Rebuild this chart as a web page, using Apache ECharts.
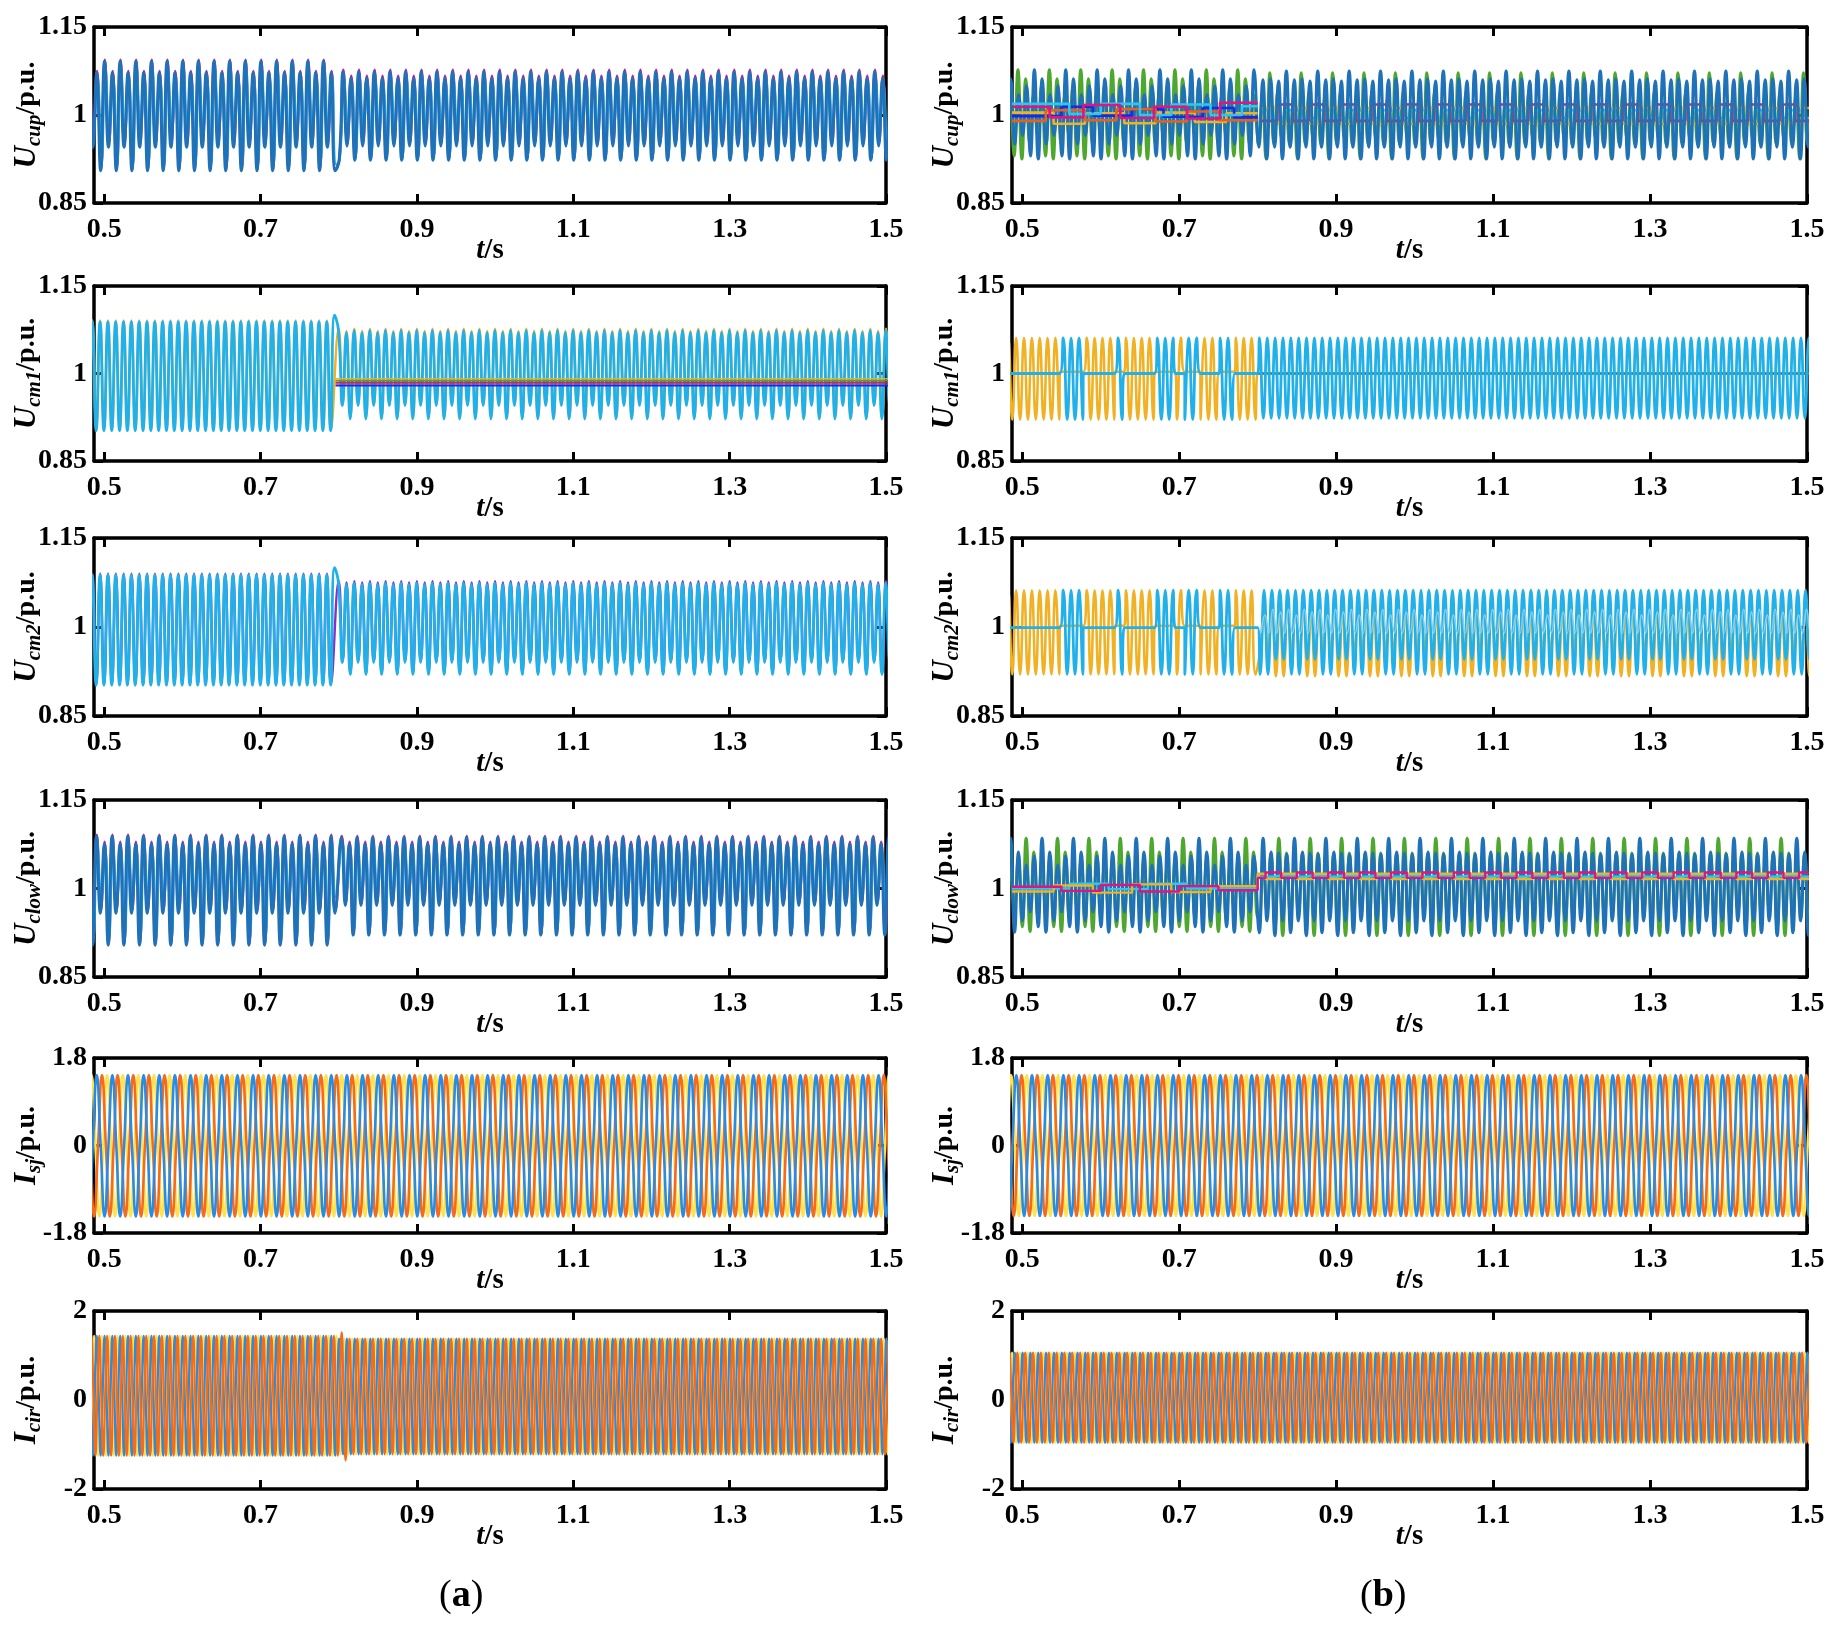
<!DOCTYPE html>
<html>
<head>
<meta charset="utf-8">
<script src="https://cdn.jsdelivr.net/npm/echarts@6/dist/echarts.min.js"></script>
<style>
  html, body { margin: 0; background: #fff; }
  #chart { width: 1837px; height: 1632px; }
</style>
</head>
<body>
<div id="chart"></div>
<script>
// axis ticks
const xTicks = [0.5, 0.7, 0.9, 1.1, 1.3, 1.5];
const yTicksU = [0.85, 1, 1.15];
const yTicksIsj = [-1.8, 0, 1.8];
const yTicksIcir = [-2, 0, 2];

// Waveform segments.
// [tStart, tEnd, period, time of first extremum, extrema of one period]  or  flat: [tStart, tEnd, level]

// ---- (a) U_cup
const ucupA_blue    = [[0.47, 0.8, 0.02, 0.5005, [1.092, 0.945, 1.072, 0.905]], [0.8, 1.51, 0.02, 0.8056, [1.074, 0.947, 1.063, 0.923]]];
const ucupA_magenta = [[0.47, 0.8, 0.02, 0.5009, [1.094, 0.95, 1.075, 0.907]],  [0.8, 1.51, 0.02, 0.806,  [1.077, 0.952, 1.067, 0.925]]];
const ucupA_light   = [[0.47, 0.8, 0.02, 0.5018, [1.08, 0.975, 1.06, 0.915]],   [0.8, 1.51, 0.02, 0.8069, [1.066, 0.978, 1.055, 0.93]]];

// ---- (a) U_cm1
const ucm1A_light  = [[0.47, 0.794, 0.01, 0.4947, [1.089, 0.902]], [0.7945, 0.7955, 0.01, 0.7947, [1.1, 0.9]], [0.796, 1.51, 0.02, 0.7997, [1.074, 0.945, 1.07, 0.922]]];
const ucm1A_orange = [[0.47, 0.794, 0.01, 0.495, [1.091, 0.904]], [0.796, 1.51, 0.02, 0.8, [1.077, 0.947, 1.073, 0.924]]];
const ucm1A_bandOrange = [[0.796, 1.51, 0.991]];
const ucm1A_bandGreen  = [[0.796, 1.51, 0.988]];
const ucm1A_bandRed    = [[0.796, 1.51, 0.985]];
const ucm1A_bandPurple = [[0.796, 1.51, 0.982]];
const ucm1A_bandBlue   = [[0.796, 1.51, 0.979]];

// ---- (a) U_cm2
const ucm2A_light  = [[0.47, 0.794, 0.01, 0.4947, [1.088, 0.902]], [0.7945, 0.7955, 0.01, 0.7947, [1.1, 0.9]], [0.796, 1.51, 0.02, 0.7997, [1.074, 0.94, 1.072, 0.92]]];
const ucm2A_purple = [[0.47, 0.794, 0.01, 0.495, [1.09, 0.904]], [0.796, 1.51, 0.02, 0.8, [1.077, 0.942, 1.075, 0.922]]];

// ---- (a) U_clow
const uclowA_blue    = [[0.47, 0.8, 0.02, 0.4702, [1.089, 0.958, 1.076, 0.904]], [0.8, 1.51, 0.02, 0.8035, [1.087, 0.971, 1.076, 0.921]]];
const uclowA_magenta = [[0.47, 0.8, 0.02, 0.4706, [1.091, 0.962, 1.079, 0.906]], [0.8, 1.51, 0.02, 0.8039, [1.089, 0.975, 1.079, 0.923]]];
const uclowA_light   = [[0.47, 0.8, 0.02, 0.4715, [1.08, 0.985, 1.065, 0.915]],  [0.8, 1.51, 0.02, 0.8048, [1.078, 0.99, 1.066, 0.93]]];

// ---- (a) I_sj
const isjA_blue   = [[0.47, 1.51, 0.02, 0.4905, [1.45, 0, -1.46, 0]]];
const isjA_orange = [[0.47, 1.51, 0.02, 0.4972, [1.45, 0, -1.46, 0]]];
const isjA_yellow = [[0.47, 1.51, 0.02, 0.5038, [1.45, 0, -1.46, 0]]];

// ---- (a) I_cir
const icirA_blue   = [[0.47, 0.8, 0.01, 0.4905, [1.44, 0.1, -1.25, 0.1]], [0.8, 1.51, 0.01, 0.8005, [1.38, 0.08, -1.22, 0.08]]];
const icirA_orange = [[0.47, 0.8, 0.01, 0.4938, [1.44, 0.1, -1.25, 0.1]], [0.8, 0.812, 0.01, 0.8038, [1.52, 0.1, -1.36, 0.1]], [0.812, 1.51, 0.01, 0.8138, [1.38, 0.08, -1.22, 0.08]]];
const icirA_yellow = [[0.47, 0.8, 0.01, 0.4972, [1.44, 0.1, -1.25, 0.1]], [0.8, 1.51, 0.01, 0.8072, [1.38, 0.08, -1.22, 0.08]]];

// ---- (b) U_cup
const ucupB_green = [[0.47, 0.8, 0.04, 0.4946, [1.077, 0.925, 1.062, 0.95, 1.035, 0.965, 1.05, 0.93]], [0.8, 1.51, 0.04, 0.8157, [1.072, 0.95, 1.04, 0.96, 1.02, 0.95, 1.03, 0.925]]];
const ucupB_blue  = [[0.47, 0.8, 0.04, 0.4755, [1.077, 0.925, 1.062, 0.95, 1.035, 0.965, 1.05, 0.93]], [0.8, 1.51, 0.04, 0.8366, [1.075, 0.945, 1.06, 0.925, 1.062, 0.945, 1.058, 0.925]]];
const ucupB_stepMagenta = [[0.487, 0.535, 1.014], [0.535, 0.578, 0.996], [0.578, 0.625, 1.017], [0.625, 0.668, 0.995], [0.668, 0.71, 1.014], [0.71, 0.752, 0.994], [0.752, 0.8, 1.021]];
const ucupB_stepOrange  = [[0.487, 0.53, 0.99], [0.53, 0.58, 1.008], [0.58, 0.62, 0.991], [0.62, 0.67, 1.01], [0.67, 0.71, 0.989], [0.71, 0.75, 1.006], [0.75, 0.8, 0.991]];
const ucupB_stepYellow  = [[0.487, 0.54, 1.004], [0.54, 0.58, 0.985], [0.58, 0.63, 1.003], [0.63, 0.67, 0.986], [0.67, 0.72, 1.004], [0.72, 0.76, 0.988], [0.76, 0.8, 1.003]];
const ucupB_stepDark    = [[0.487, 0.55, 0.998], [0.55, 0.59, 1.014], [0.59, 0.64, 0.999], [0.64, 0.68, 1.01], [0.68, 0.73, 0.997], [0.73, 0.77, 1.012], [0.77, 0.8, 0.996]];
const ucupB_stepCyan    = [[0.487, 0.56, 1.019], [0.56, 0.6, 1.002], [0.6, 0.65, 1.019], [0.65, 0.69, 1.0], [0.69, 0.74, 1.018], [0.74, 0.78, 1.0], [0.78, 0.8, 1.015]];
const ucupB_pulseMagenta = [[0.8, 1.51, 0.04, 0.825, [1.018, 1.018, 0.99, 0.99]]];
const ucupB_pulseOrange  = [[0.8, 1.51, 0.04, 0.845, [1.012, 1.012, 0.985, 0.985]]];
const ucupB_pulseCyan    = [[0.8, 1.51, 0.04, 0.835, [1.008, 1.008, 0.995, 0.995]]];

// ---- (b) U_cm1
const ucm1B_orange = [
  [0.47, 0.548, 0.01, 0.4923, [1.061, 0.921]], [0.548, 0.578, 1.003],
  [0.578, 0.618, 0.01, 0.4923, [1.061, 0.921]], [0.618, 0.63, 1.003],
  [0.63, 0.669, 0.01, 0.4923, [1.061, 0.921]], [0.669, 0.695, 1.003],
  [0.695, 0.707, 0.01, 0.4923, [1.061, 0.921]], [0.707, 0.727, 1.003],
  [0.727, 0.751, 0.01, 0.4923, [1.061, 0.921]], [0.751, 0.771, 1.003],
  [0.771, 0.8, 0.01, 0.4923, [1.061, 0.921]], [0.8, 1.51, 1.0]
];
const ucm1B_light = [
  [0.47, 0.548, 1.0], [0.548, 0.578, 0.01, 0.4923, [1.061, 0.921]],
  [0.578, 0.618, 1.0], [0.618, 0.63, 0.01, 0.4923, [1.061, 0.921]],
  [0.63, 0.669, 1.0], [0.669, 0.695, 0.01, 0.4923, [1.061, 0.921]],
  [0.695, 0.707, 1.0], [0.707, 0.727, 0.01, 0.4923, [1.061, 0.921]],
  [0.727, 0.751, 1.0], [0.751, 0.771, 0.01, 0.4923, [1.061, 0.921]],
  [0.771, 0.8, 1.0], [0.8, 1.51, 0.01, 0.4923, [1.061, 0.923]]
];
const ucm1B_flat = [[0.8, 1.51, 1.0]];

// ---- (b) U_cm2
const ucm2B_orange = [
  [0.47, 0.548, 0.01, 0.4923, [1.062, 0.92]], [0.548, 0.578, 1.002],
  [0.578, 0.618, 0.01, 0.4923, [1.062, 0.92]], [0.618, 0.63, 1.002],
  [0.63, 0.669, 0.01, 0.4923, [1.062, 0.92]], [0.669, 0.695, 1.002],
  [0.695, 0.707, 0.01, 0.4923, [1.062, 0.92]], [0.707, 0.727, 1.002],
  [0.727, 0.751, 0.01, 0.4923, [1.062, 0.92]], [0.751, 0.771, 1.002],
  [0.771, 0.8, 0.01, 0.4923, [1.062, 0.92]], [0.8, 1.51, 0.04, 0.7982, [1.03, 0.96, 1.03, 0.96, 1.03, 0.917, 1.03, 0.917]]
];
const ucm2B_light = [
  [0.47, 0.548, 0.999], [0.548, 0.578, 0.01, 0.4923, [1.062, 0.92]],
  [0.578, 0.618, 0.999], [0.618, 0.63, 0.01, 0.4923, [1.062, 0.92]],
  [0.63, 0.669, 0.999], [0.669, 0.695, 0.01, 0.4923, [1.062, 0.92]],
  [0.695, 0.707, 0.999], [0.707, 0.727, 0.01, 0.4923, [1.062, 0.92]],
  [0.727, 0.751, 0.999], [0.751, 0.771, 0.01, 0.4923, [1.062, 0.92]],
  [0.771, 0.8, 0.999], [0.8, 1.51, 0.04, 0.7982, [1.062, 0.92, 1.062, 0.92, 1.062, 0.945, 1.062, 0.945]]
];
const ucm2B_inner = [[0.8, 1.51, 0.04, 0.7994, [1.03, 0.99, 1.02, 0.99, 1.03, 0.99, 1.025, 0.99]]];

// ---- (b) U_clow
const uclowB_green = [[0.47, 0.8, 0.04, 0.505, [1.085, 0.927, 1.062, 0.95, 1.04, 0.965, 1.05, 0.935]], [0.8, 1.51, 0.04, 0.827, [1.085, 0.92, 1.06, 0.95, 1.045, 0.96, 1.06, 0.935]]];
const uclowB_blue  = [[0.47, 0.8, 0.04, 0.4853, [1.085, 0.926, 1.062, 0.945, 1.04, 0.96, 1.055, 0.935]], [0.8, 1.51, 0.04, 0.807, [1.085, 0.945, 1.062, 0.92, 1.06, 0.945, 1.058, 0.925]]];
const uclowB_stepMagenta = [[0.487, 0.55, 1.003], [0.55, 0.6, 0.996], [0.6, 0.65, 1.006], [0.65, 0.7, 0.995], [0.7, 0.75, 1.004], [0.75, 0.8, 0.997], [0.8, 1.51, 0.04, 0.81, [1.027, 1.027, 1.018, 1.018]]];
const uclowB_stepOrange  = [[0.487, 0.54, 0.995], [0.54, 0.59, 1.005], [0.59, 0.64, 0.993], [0.64, 0.69, 1.007], [0.69, 0.74, 0.994], [0.74, 0.8, 1.004], [0.8, 1.51, 0.04, 0.83, [1.025, 1.025, 1.016, 1.016]]];
const uclowB_stepCyan    = [[0.487, 0.56, 1.0], [0.56, 0.61, 1.008], [0.61, 0.66, 0.999], [0.66, 0.71, 1.008], [0.71, 0.8, 1.0], [0.8, 1.51, 0.04, 0.82, [1.022, 1.022, 1.02, 1.02]]];

// ---- (b) I_sj
const isjB_blue   = [[0.47, 1.51, 0.02, 0.4925, [1.45, 0, -1.45, 0]]];
const isjB_orange = [[0.47, 1.51, 0.02, 0.4992, [1.45, 0, -1.45, 0]]];
const isjB_yellow = [[0.47, 1.51, 0.02, 0.5058, [1.45, 0, -1.45, 0]]];

// ---- (b) I_cir
const icirB_blue   = [[0.47, 1.51, 0.01, 0.4905, [1.065, 0.05, -0.96, 0.05]]];
const icirB_orange = [[0.47, 1.51, 0.01, 0.4938, [1.065, 0.05, -0.96, 0.05]]];
const icirB_yellow = [[0.47, 1.51, 0.01, 0.4972, [1.065, 0.05, -0.96, 0.05]]];

const C = {
  blue: '#1f72b8', light: '#22b0e8', magenta: '#e0157f', green: '#4ea72e',
  orange: '#f0b224', red: '#c8322a', purple: '#8a2fc6', dark: '#1a2ae0',
  cyan: '#2fc6ee', teal: '#2f7f9a', yellow: '#f3cf2c', orangeRed: '#e8601c',
  iBlue: '#2a8be0', iOrange: '#f46b1c', iYellow: '#ffe24e'
};

// [segments, colour, width, mode]  mode: 0 straight, 1 smooth, 2 step
const panels = [
  { col: 0, row: 0, sym: 'U', sub: 'cup', yt: yTicksU, lines: [[ucupA_magenta, C.magenta, 2.6, 1], [ucupA_light, C.light, 2, 1], [ucupA_blue, C.blue, 3, 1]] },
  { col: 0, row: 1, sym: 'U', sub: 'cm1', yt: yTicksU, lines: [[ucm1A_orange, C.orange, 2.4, 1], [ucm1A_light, C.light, 2.8, 1], [ucm1A_bandOrange, C.orange, 1.6, 0], [ucm1A_bandGreen, C.green, 1.6, 0], [ucm1A_bandRed, C.red, 1.6, 0], [ucm1A_bandPurple, C.purple, 1.6, 0], [ucm1A_bandBlue, C.dark, 1.6, 0]] },
  { col: 0, row: 2, sym: 'U', sub: 'cm2', yt: yTicksU, lines: [[ucm2A_purple, C.purple, 2.4, 1], [ucm2A_light, C.light, 2.8, 1]] },
  { col: 0, row: 3, sym: 'U', sub: 'clow', yt: yTicksU, lines: [[uclowA_magenta, C.magenta, 2.6, 1], [uclowA_light, C.light, 2, 1], [uclowA_blue, C.blue, 3, 1]] },
  { col: 0, row: 4, sym: 'I', sub: 'sj', yt: yTicksIsj, lines: [[isjA_yellow, C.iYellow, 2.6, 1], [isjA_orange, C.iOrange, 2.6, 1], [isjA_blue, C.iBlue, 2.6, 1]] },
  { col: 0, row: 5, sym: 'I', sub: 'cir', yt: yTicksIcir, lines: [[icirA_yellow, C.iYellow, 2.2, 1], [icirA_blue, C.iBlue, 2.2, 1], [icirA_orange, C.iOrange, 2.2, 1]] },
  { col: 1, row: 0, sym: 'U', sub: 'cup', yt: yTicksU, lines: [[ucupB_green, C.green, 3, 1], [ucupB_pulseCyan, C.cyan, 2.4, 2], [ucupB_pulseOrange, C.orange, 2.4, 2], [ucupB_pulseMagenta, C.magenta, 2.6, 2], [ucupB_blue, C.blue, 3, 1], [ucupB_stepYellow, C.orange, 2.6, 0], [ucupB_stepDark, C.dark, 2.6, 0], [ucupB_stepOrange, C.orangeRed, 2.6, 0], [ucupB_stepCyan, C.cyan, 2.6, 0], [ucupB_stepMagenta, C.magenta, 2.6, 0]] },
  { col: 1, row: 1, sym: 'U', sub: 'cm1', yt: yTicksU, lines: [[ucm1B_orange, C.orange, 2.6, 1], [ucm1B_flat, C.teal, 2.4, 0], [ucm1B_light, C.light, 2.8, 1]] },
  { col: 1, row: 2, sym: 'U', sub: 'cm2', yt: yTicksU, lines: [[ucm2B_orange, C.orange, 2.6, 1], [ucm2B_light, C.light, 2.8, 1], [ucm2B_inner, '#7fd0f2', 1.6, 1]] },
  { col: 1, row: 3, sym: 'U', sub: 'clow', yt: yTicksU, lines: [[uclowB_green, C.green, 3, 1], [uclowB_blue, C.blue, 3, 1], [uclowB_stepCyan, C.cyan, 2.4, 2], [uclowB_stepOrange, C.orange, 2.4, 2], [uclowB_stepMagenta, C.magenta, 2.4, 2]] },
  { col: 1, row: 4, sym: 'I', sub: 'sj', yt: yTicksIsj, lines: [[isjB_yellow, C.iYellow, 2.6, 1], [isjB_orange, C.iOrange, 2.6, 1], [isjB_blue, C.iBlue, 2.6, 1]] },
  { col: 1, row: 5, sym: 'I', sub: 'cir', yt: yTicksIcir, lines: [[icirB_yellow, C.iYellow, 2.2, 1], [icirB_blue, C.iBlue, 2.2, 1], [icirB_orange, C.iOrange, 2.2, 1]] }
];

const colLeft = [94, 1012];
const colWidth = [792, 795];
const rowTop = [27, 286, 538, 800, 1058, 1311];
const rowHeight = [176, 175, 178, 177, 175, 178];
const FONT = '"Liberation Serif", "Times New Roman", serif';

// turn a segment list into [t, value] points at the read extrema
function buildWave(segs) {
  const pts = [];
  for (const s of segs) {
    if (s.length === 3) { pts.push([s[0], s[2]], [s[1], s[2]]); continue; }
    const [t0, t1, period, tFirst, ext] = s;
    const dt = period / ext.length;
    let k = Math.ceil((t0 - tFirst) / dt - 1e-9);
    for (; tFirst + k * dt <= t1 + 1e-9; k++) {
      const idx = ((k % ext.length) + ext.length) % ext.length;
      pts.push([+(tFirst + k * dt).toFixed(5), ext[idx]]);
    }
  }
  return pts;
}

const lineAxis = { show: true, onZero: false, lineStyle: { color: '#000', width: 3.5 } };
const tickStyle = (vals) => ({ show: true, inside: true, length: 9, customValues: vals, lineStyle: { color: '#000', width: 3 } });
const labelStyle = { color: '#000', fontFamily: FONT, fontWeight: 'bold', fontSize: 28 };

const grid = [], xAxis = [], yAxis = [], series = [];
panels.forEach((p, i) => {
  grid.push({ left: colLeft[p.col], top: rowTop[p.row], width: colWidth[p.col], height: rowHeight[p.row] });
  xAxis.push({
    gridIndex: i, type: 'value', min: 0.487, max: 1.5, position: 'bottom',
    axisLine: lineAxis, axisTick: tickStyle(xTicks), splitLine: { show: false },
    axisLabel: Object.assign({ customValues: xTicks, margin: 13, formatter: v => String(v) }, labelStyle),
    name: '{it|t}{n|/s}', nameLocation: 'middle', nameGap: 33, nameMoveOverlap: false,
    nameTextStyle: { rich: {
      it: { fontFamily: FONT, fontStyle: 'italic', fontWeight: 'bold', fontSize: 29, color: '#000' },
      n: { fontFamily: FONT, fontWeight: 'bold', fontSize: 29, color: '#000' } } }
  });
  xAxis.push({
    gridIndex: i, type: 'value', min: 0.487, max: 1.5, position: 'top',
    axisLine: lineAxis, axisTick: tickStyle(xTicks), axisLabel: { show: false }, splitLine: { show: false }
  });
  yAxis.push({
    gridIndex: i, type: 'value', min: p.yt[0], max: p.yt[2], position: 'left',
    axisLine: lineAxis, axisTick: tickStyle(p.yt), splitLine: { show: false },
    axisLabel: Object.assign({ customValues: p.yt, margin: 7, formatter: v => String(v) }, labelStyle),
    name: '{it|' + p.sym + '}{sub|' + p.sub + '}{n|/p.u.}', nameLocation: 'middle', nameRotate: 90, nameGap: 49, nameMoveOverlap: false,
    nameTextStyle: { rich: {
      it: { fontFamily: FONT, fontStyle: 'italic', fontWeight: 'bold', fontSize: 31, lineHeight: 36, color: '#000' },
      sub: { fontFamily: FONT, fontStyle: 'italic', fontWeight: 'bold', fontSize: 21, lineHeight: 20, verticalAlign: 'bottom', color: '#000' },
      n: { fontFamily: FONT, fontWeight: 'bold', fontSize: 28, lineHeight: 36, color: '#000' } } }
  });
  yAxis.push({
    gridIndex: i, type: 'value', min: p.yt[0], max: p.yt[2], position: 'right',
    axisLine: lineAxis, axisTick: tickStyle(p.yt), axisLabel: { show: false }, splitLine: { show: false }
  });
  p.lines.forEach(([segs, color, width, mode]) => {
    series.push({
      type: 'line', xAxisIndex: 2 * i, yAxisIndex: 2 * i,
      data: buildWave(segs), showSymbol: false, symbol: 'none',
      smooth: mode === 1 ? 0.5 : false, step: mode === 2 ? 'end' : false,
      clip: true, silent: true,
      lineStyle: { color: color, width: width }
    });
  });
});

const chart = echarts.init(document.getElementById('chart'), null, { renderer: 'canvas' });
chart.setOption({
  animation: false,
  backgroundColor: '#fff',
  title: [
    { text: '({b|a})', left: 434, top: 1572, textStyle: { fontFamily: FONT, fontSize: 38, fontWeight: 'normal', color: '#000', rich: { b: { fontFamily: FONT, fontSize: 38, fontWeight: 'bold', color: '#000' } } } },
    { text: '({b|b})', left: 1355, top: 1572, textStyle: { fontFamily: FONT, fontSize: 38, fontWeight: 'normal', color: '#000', rich: { b: { fontFamily: FONT, fontSize: 38, fontWeight: 'bold', color: '#000' } } } }
  ],
  grid, xAxis, yAxis, series
});
</script>
</body>
</html>
